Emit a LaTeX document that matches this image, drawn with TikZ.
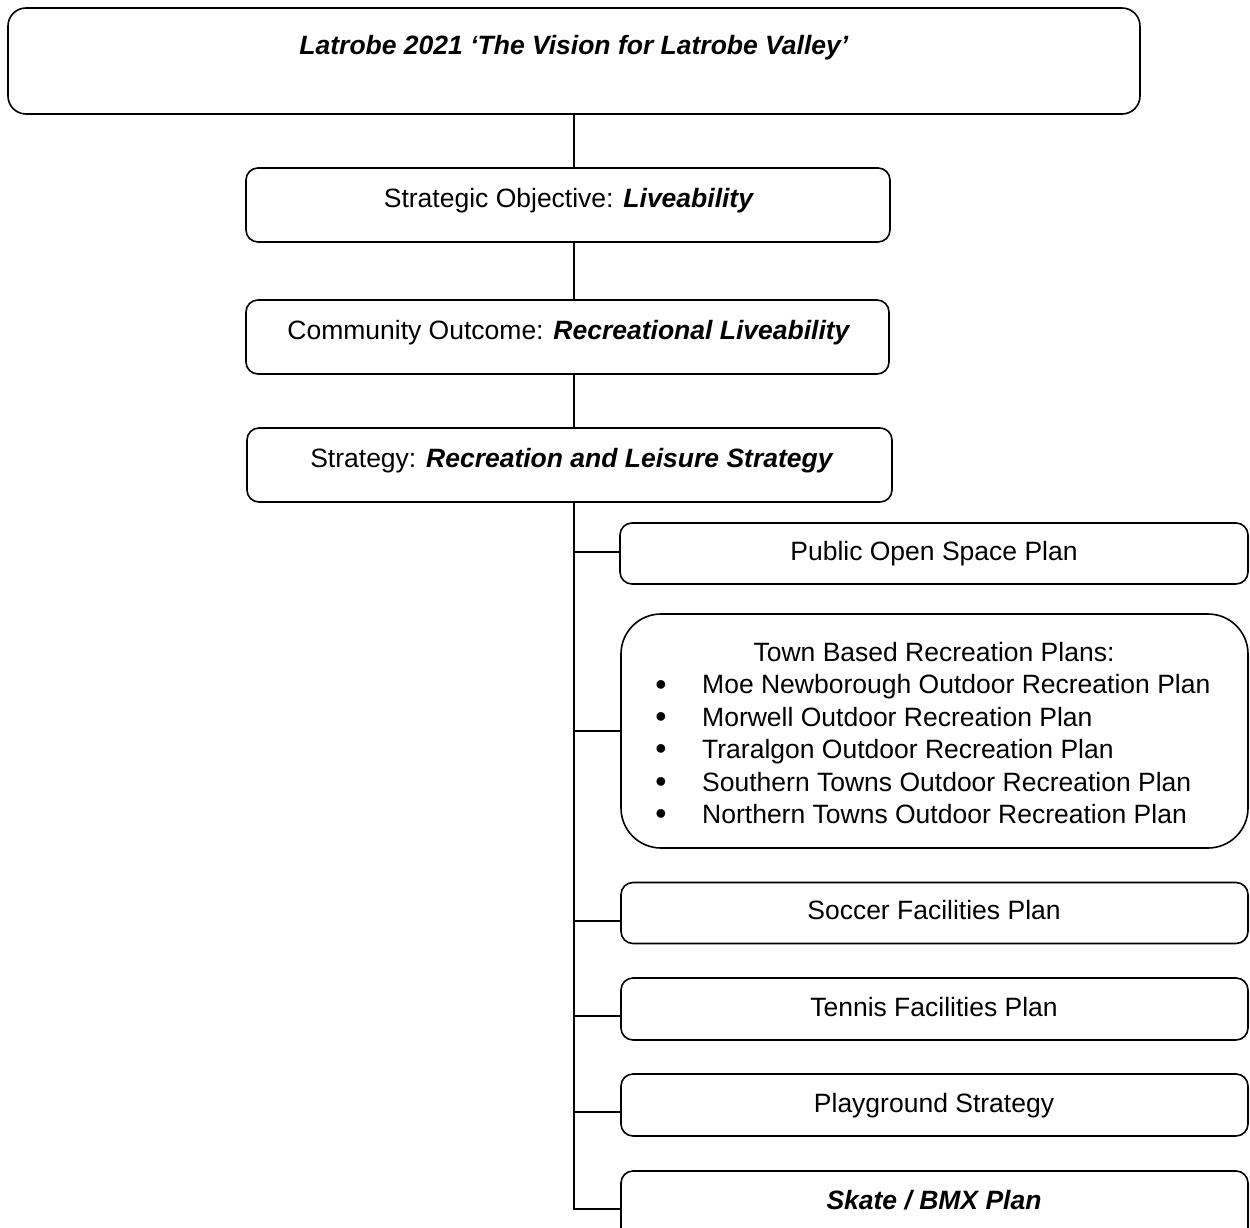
\documentclass[tikz,border=0pt]{standalone}
\usepackage{fontspec}
\setmainfont{Liberation Sans}
\usetikzlibrary{calc}
\begin{document}
\begin{tikzpicture}[x=1pt,y=-1pt,
  box/.style={draw, line width=1.6pt, rounded corners=12pt, inner sep=0pt},
  txt/.style={font=\fontsize{26.5}{32.4}\selectfont, inner sep=0pt, anchor=base},
  bul/.style={font=\fontsize{32}{32.4}\selectfont, inner sep=0pt, anchor=base},
  itm/.style={txt, anchor=base west},
  conn/.style={line width=1.6pt}]
\useasboundingbox (0,0) rectangle (1250,1228);
\clip (0,0) rectangle (1250,1228);
% boxes
\node[box, rounded corners=18pt, minimum width=1132pt, minimum height=106pt] (b1) at (574,61) {};
\node[box, minimum width=644pt, minimum height=74pt] (b2) at (568,205) {};
\node[box, minimum width=643pt, minimum height=74pt] (b3) at (567.5,337) {};
\node[box, minimum width=645pt, minimum height=74pt] (b4) at (569.5,465) {};
\node[box, minimum width=628pt, minimum height=61pt] (pub) at (934,553.5) {};
\node[box, rounded corners=40pt, minimum width=627pt, minimum height=234pt] (town) at (934.5,731) {};
\node[box, minimum width=627pt, minimum height=61pt] (soc) at (934.5,913) {};
\node[box, minimum width=627pt, minimum height=62pt] (ten) at (934.5,1009) {};
\node[box, minimum width=627pt, minimum height=62pt] (play) at (934.5,1105) {};
\node[box, minimum width=627pt, minimum height=76pt] (skate) at (934.5,1209) {};
% texts
\node[txt] (t1) at (574,54.5) {\textbf{\textit{Latrobe 2021 ‘The Vision for Latrobe Valley’}}};
\node[txt] (t2) at (569,207) {Strategic Objective: \textbf{\textit{Liveability}}};
\node[txt] (t3) at (569,339.5) {Community Outcome: \textbf{\textit{Recreational Liveability}}};
\node[txt] (t4) at (572,467.5) {Strategy: \textbf{\textit{Recreation and Leisure Strategy}}};
\node[txt] (tpub) at (934,560.5) {Public Open Space Plan};
\node[txt] (ttown) at (934,661.5) {Town Based Recreation Plans:};
\node[bul] (bu1) at (661,695) {•};
\node[bul] (bu2) at (661,727.4) {•};
\node[bul] (bu3) at (661,759.8) {•};
\node[bul] (bu4) at (661,792.2) {•};
\node[bul] (bu5) at (661,824.6) {•};
\node[itm] (i1) at (702,693.9) {Moe Newborough Outdoor Recreation Plan};
\node[itm] (i2) at (702,726.3) {Morwell Outdoor Recreation Plan};
\node[itm] (i3) at (702,758.7) {Traralgon Outdoor Recreation Plan};
\node[itm] (i4) at (702,791.1) {Southern Towns Outdoor Recreation Plan};
\node[itm] (i5) at (702,823.5) {Northern Towns Outdoor Recreation Plan};
\node[txt] (tsoc) at (934,919) {Soccer Facilities Plan};
\node[txt] (tten) at (934,1016.5) {Tennis Facilities Plan};
\node[txt] (tplay) at (934,1112.5) {Playground Strategy};
\node[txt] (tskate) at (934,1209.5) {\textbf{\textit{Skate / BMX Plan}}};
% connectors
\coordinate (sp) at (574,0);
\coordinate (ypub) at (0,552);
\coordinate (ysoc) at (0,921);
\coordinate (yten) at (0,1016);
\coordinate (yplay) at (0,1112);
\draw[conn] (b1.south -| sp) -- (b2.north -| sp);
\draw[conn] (b2.south -| sp) -- (b3.north -| sp);
\draw[conn] (b3.south -| sp) -- (b4.north -| sp);
\draw[conn] (b4.south -| sp) -- (sp |- skate.west) -- (skate.west);
\draw[conn] (sp |- ypub) -- (pub.west |- ypub);
\draw[conn] (sp |- town.west) -- (town.west);
\draw[conn] (sp |- ysoc) -- (soc.west |- ysoc);
\draw[conn] (sp |- yten) -- (ten.west |- yten);
\draw[conn] (sp |- yplay) -- (play.west |- yplay);
\end{tikzpicture}
\end{document}
